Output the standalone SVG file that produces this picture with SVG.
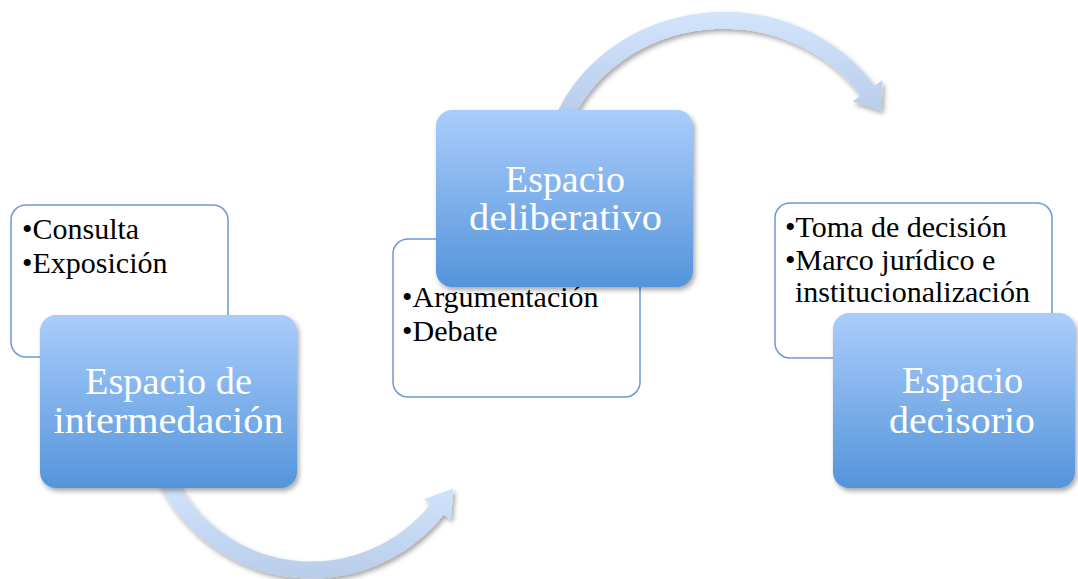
<svg xmlns="http://www.w3.org/2000/svg" width="1078" height="579" viewBox="0 0 1078 579">
  <defs>
    <linearGradient id="titleFill" x1="0" y1="0" x2="0" y2="1">
      <stop offset="0" stop-color="#aacdfb"/>
      <stop offset="1" stop-color="#5494db"/>
    </linearGradient>
    <linearGradient id="arrowTopFill" gradientUnits="userSpaceOnUse" x1="0" y1="12" x2="0" y2="125">
      <stop offset="0" stop-color="#d3e4fc"/>
      <stop offset="1" stop-color="#b6cae8"/>
    </linearGradient>
    <linearGradient id="arrowBottomFill" gradientUnits="userSpaceOnUse" x1="0" y1="488" x2="0" y2="578">
      <stop offset="0" stop-color="#d1e3fc"/>
      <stop offset="1" stop-color="#b9cce9"/>
    </linearGradient>
    <filter id="shadow" x="-10%" y="-10%" width="125%" height="130%">
      <feDropShadow dx="2" dy="3" stdDeviation="2.5" flood-color="#000" flood-opacity="0.35"/>
    </filter>
  </defs>
  <style>
    .list { fill: #ffffff; stroke: #6a9bd6; stroke-width: 1.5; }
    .title { fill: url(#titleFill); filter: url(#shadow); }
    .item { font-family: "Liberation Serif", "Times New Roman", serif; font-size: 30px; fill: #000000; }
    .head { font-family: "Liberation Serif", "Times New Roman", serif; font-size: 37px; fill: #ffffff; text-anchor: middle; }
  </style>

  <!-- curved flow arrows, drawn beneath the title boxes -->
  <g id="connectors">
    <g id="arrow-1" filter="url(#shadow)">
      <path d="M161.7 468.8 A161 161 0 0 0 438.5 507.5" fill="none" stroke="url(#arrowBottomFill)" stroke-width="17"/>
      <polygon points="424.2,499.0 453.5,488.5 450.8,520.0" fill="url(#arrowBottomFill)"/>
    </g>
    <g id="arrow-2" filter="url(#shadow)">
      <path d="M561 125 A173.4 160 0 0 1 869 93" fill="none" stroke="url(#arrowTopFill)" stroke-width="17"/>
      <polygon points="852.5,101.5 882.5,80 881.7,110.8" fill="url(#arrowTopFill)"/>
    </g>
  </g>

  <g id="node-intermediacion">
    <rect class="list" x="11" y="205" width="217" height="152" rx="15"/>
    <text class="item" x="22" y="239">•Consulta</text>
    <text class="item" x="22" y="273">•Exposición</text>
    <rect class="title" x="40" y="315" width="257" height="173" rx="16"/>
    <text class="head" x="168.5" y="394" textLength="167" lengthAdjust="spacingAndGlyphs">Espacio de</text>
    <text class="head" x="168.5" y="433" textLength="230" lengthAdjust="spacingAndGlyphs">intermedación</text>
  </g>

  <g id="node-deliberativo">
    <rect class="list" x="393" y="239" width="247" height="158" rx="15"/>
    <text class="item" x="402" y="307">•Argumentación</text>
    <text class="item" x="402" y="341">•Debate</text>
    <rect class="title" x="436" y="110" width="257" height="177" rx="16"/>
    <text class="head" x="565" y="192" textLength="120" lengthAdjust="spacingAndGlyphs">Espacio</text>
    <text class="head" x="565.5" y="230" textLength="193" lengthAdjust="spacingAndGlyphs">deliberativo</text>
  </g>

  <g id="node-decisorio">
    <rect class="list" x="775" y="203" width="277" height="155" rx="15"/>
    <text class="item" x="785" y="237">•Toma de decisión</text>
    <text class="item" x="785" y="270">•Marco jurídico e</text>
    <text class="item" x="795" y="302">institucionalización</text>
    <rect class="title" x="833" y="313" width="242" height="175" rx="16"/>
    <text class="head" x="962.5" y="393" textLength="121" lengthAdjust="spacingAndGlyphs">Espacio</text>
    <text class="head" x="962" y="433" textLength="146" lengthAdjust="spacingAndGlyphs">decisorio</text>
  </g>
</svg>
